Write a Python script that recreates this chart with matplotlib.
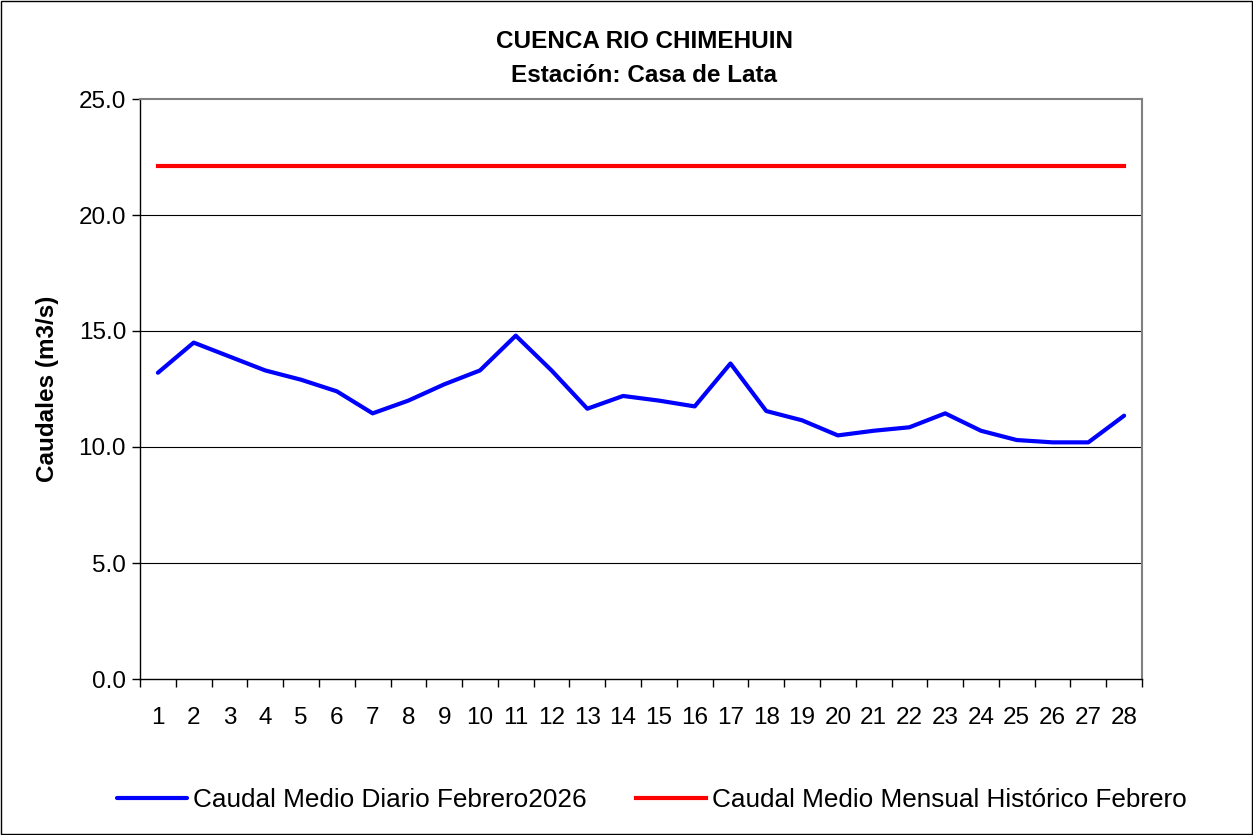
import numpy as np
import matplotlib.pyplot as plt
from matplotlib.patches import Rectangle

plt.rcParams['font.family'] = ['Liberation Sans', 'DejaVu Sans']

# Datos
dias = list(range(1, 29))
caudal_diario = [13.2, 14.5, 13.9, 13.3, 12.9, 12.4, 11.45, 12.0, 12.7, 13.3,
                 14.8, 13.3, 11.65, 12.2, 12.0, 11.75, 13.6, 11.55, 11.15, 10.5,
                 10.7, 10.85, 11.45, 10.7, 10.3, 10.2, 10.2, 11.35]
caudal_historico = [22.1] * 28
yticks = [0, 5, 10, 15, 20, 25]

fig = plt.figure(figsize=(12.53, 8.35), dpi=100)
ax = fig.add_axes([140 / 1253, 1 - 679 / 835, (1142 - 140) / 1253, (679 - 99) / 835])

# marco exterior
fig.patches.append(Rectangle((0.0008, 0.0012), 0.9984, 0.9976, transform=fig.transFigure,
                             fill=False, edgecolor='black', linewidth=1))

for y in yticks[1:-1]:
    ax.axhline(y, color='black', linewidth=0.8, zorder=1)

l1, = ax.plot(dias, caudal_diario, color='#0000ff', linewidth=3, zorder=3,
              solid_joinstyle='round', solid_capstyle='round')
l2, = ax.plot(dias, caudal_historico, color='#ff0000', linewidth=3, zorder=3)

ax.set_xlim(0.5, 28.5)
ax.set_ylim(0, 25)
ax.set_yticks(yticks)
ax.set_yticklabels([f'{v:.1f}' for v in yticks], fontsize=17.5)
ax.set_xticks(dias)
ax.set_xticklabels([str(d) for d in dias], fontsize=17.5)
ax.tick_params(axis='x', which='major', length=0, pad=20)
ax.set_xticks(np.arange(0.5, 29, 1), minor=True)
ax.tick_params(axis='x', which='minor', length=6, width=1, color='black', direction='out')
ax.tick_params(axis='y', length=6, width=1, color='black', direction='out', pad=4)

for s in ['top', 'right']:
    ax.spines[s].set_color('#808080')
    ax.spines[s].set_linewidth(1.5)
for s in ['left', 'bottom']:
    ax.spines[s].set_color('black')
    ax.spines[s].set_linewidth(1)

ax.set_ylabel('Caudales (m3/s)', fontsize=17.5, fontweight='bold', labelpad=14)
fig.text(0.514, 1 - 42 / 835, 'CUENCA RIO CHIMEHUIN', ha='center', va='center',
         fontsize=17.5, fontweight='bold')
fig.text(0.514, 1 - 76 / 835, 'Estación: Casa de Lata', ha='center', va='center',
         fontsize=17.5, fontweight='bold')

fig.legend([l1, l2], ['Caudal Medio Diario Febrero2026', 'Caudal Medio Mensual Histórico Febrero'],
           loc='center', bbox_to_anchor=(0.52, 1 - 800 / 835), ncol=2, frameon=False,
           fontsize=18.8, handlelength=2.7, columnspacing=1.9, handletextpad=0.2)

fig.savefig('out.png', dpi=100)
